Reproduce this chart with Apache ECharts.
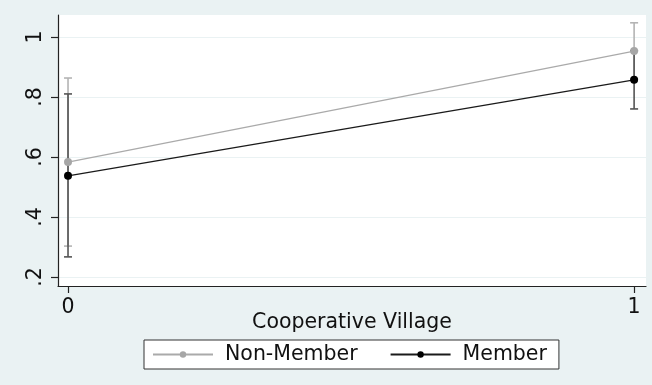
<!DOCTYPE html>
<html>
<head>
<meta charset="utf-8">
<script src="https://cdn.jsdelivr.net/npm/echarts@6/dist/echarts.min.js"></script>
<style>
  html, body { margin: 0; padding: 0; background: #eaf2f3; }
  #chart { width: 652px; height: 385px; }
</style>
</head>
<body>
<div id="chart"></div>
<script>
// Predicted probabilities by cooperative village status, with 95% CIs
const villageLevels = [0, 1];
const nonMemberMean = [0.583, 0.953];
const nonMemberLow  = [0.303, 0.860];
const nonMemberHigh = [0.863, 1.047];
const memberMean = [0.537, 0.857];
const memberLow  = [0.267, 0.760];
const memberHigh = [0.810, 0.954];
const yTicks = [0.2, 0.4, 0.6, 0.8, 1];
const xTicks = [0, 1];

const FONT = 'DejaVu Sans';
const TEXT = '#111111';
const BG = '#eaf2f3';

function pairs(xs, ys) { return xs.map((x, i) => [x, ys[i]]); }
function ciData(xs, lo, hi) { return xs.map((x, i) => [x, lo[i], hi[i]]); }

function ciSeries(name, data, color) {
  return {
    name: name + ' CI',
    type: 'custom',
    z: 2,
    silent: true,
    renderItem: function (params, api) {
      const x = api.value(0);
      const top = api.coord([x, api.value(2)]);
      const bot = api.coord([x, api.value(1)]);
      const hw = 4;
      const style = { stroke: color, lineWidth: 1.6 };
      return {
        type: 'group',
        children: [
          { type: 'line', shape: { x1: top[0], y1: top[1], x2: bot[0], y2: bot[1] }, style: style },
          { type: 'line', shape: { x1: top[0] - hw, y1: top[1], x2: top[0] + hw, y2: top[1] }, style: style },
          { type: 'line', shape: { x1: bot[0] - hw, y1: bot[1], x2: bot[0] + hw, y2: bot[1] }, style: style }
        ]
      };
    },
    data: data
  };
}

const chart = echarts.init(document.getElementById('chart'), null, { renderer: 'canvas' });
chart.setOption({
  backgroundColor: BG,
  animation: false,
  textStyle: { fontFamily: FONT },
  grid: {
    left: 58, top: 15, right: 6, bottom: 99,
    show: true, backgroundColor: '#ffffff', borderWidth: 0
  },
  xAxis: {
    type: 'value',
    min: -0.0177, max: 1.021,
    name: 'Cooperative Village',
    nameLocation: 'middle',
    nameGap: 26,
    nameMoveOverlap: false,
    nameTextStyle: { fontFamily: FONT, fontSize: 20.5, color: TEXT },
    axisLine: { show: true, onZero: false, lineStyle: { color: '#222', width: 1.2 } },
    axisTick: { show: true, customValues: xTicks, length: 7, lineStyle: { color: '#222', width: 1.2 } },
    axisLabel: { customValues: xTicks, margin: 11, fontFamily: FONT, fontSize: 20.5, color: TEXT },
    splitLine: { show: false }
  },
  yAxis: {
    type: 'value',
    min: 0.17, max: 1.073,
    axisLine: { show: true, onZero: false, lineStyle: { color: '#222', width: 1.2 } },
    axisTick: { show: true, customValues: yTicks, length: 7, lineStyle: { color: '#222', width: 1.2 } },
    axisLabel: {
      customValues: yTicks,
      rotate: 90,
      margin: 12,
      fontFamily: FONT, fontSize: 20.5, color: TEXT,
      formatter: function (v) { return v === 1 ? '1' : String(v).replace(/^0/, ''); }
    },
    splitLine: { show: true, lineStyle: { color: BG, width: 1 } }
  },
  legend: {
    left: 144, top: 340,
    data: ['Non-Member', 'Member'],
    backgroundColor: '#ffffff',
    borderColor: '#333333', borderWidth: 1,
    padding: [4, 12, 4, 8],
    itemWidth: 60, itemHeight: 8, itemGap: 32,
    textStyle: { fontFamily: FONT, fontSize: 20.5, color: TEXT, padding: [0, 0, 0, 7] }
  },
  series: [
    ciSeries('Non-Member', ciData(villageLevels, nonMemberLow, nonMemberHigh), '#b4b4b4'),
    ciSeries('Member', ciData(villageLevels, memberLow, memberHigh), '#555555'),
    {
      name: 'Non-Member', type: 'line', z: 3,
      data: pairs(villageLevels, nonMemberMean),
      symbol: 'circle', symbolSize: 8,
      lineStyle: { color: '#aaaaaa', width: 1.3 },
      itemStyle: { color: '#a6a6a6' }
    },
    {
      name: 'Member', type: 'line', z: 4,
      data: pairs(villageLevels, memberMean),
      symbol: 'circle', symbolSize: 8,
      lineStyle: { color: '#1a1a1a', width: 1.3 },
      itemStyle: { color: '#000000' }
    }
  ]
});
</script>
</body>
</html>
